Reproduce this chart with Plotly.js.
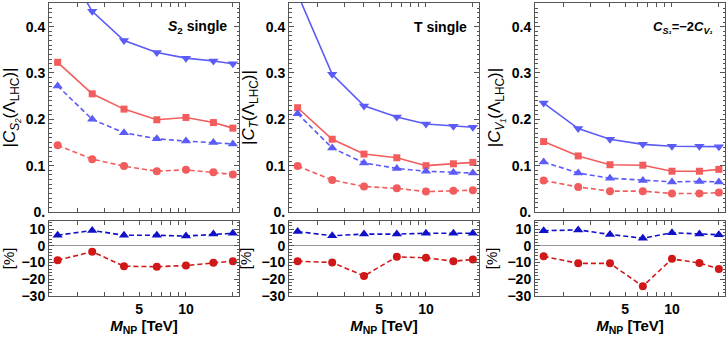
<!DOCTYPE html>
<html>
<head>
<meta charset="utf-8">
<script src="https://cdn.plot.ly/plotly-3.0.1.min.js"></script>
<style>
  body { margin: 0; background: #fff; }
  #graph { width: 728px; height: 340px; }
</style>
</head>
<body>
<div id="graph"></div>
<script>
// 質量 M_NP [TeV]
const massValues = [1.5, 2.5, 4, 6.5, 10, 15, 20];

// S2 single の上段
const s2BlueSolid = [0.56, 0.433, 0.370, 0.344, 0.332, 0.326, 0.320];
const s2RedSolid = [0.323, 0.255, 0.222, 0.199, 0.204, 0.193, 0.181];
const s2BlueDash = [0.272, 0.200, 0.171, 0.158, 0.153, 0.150, 0.147];
const s2RedDash = [0.144, 0.114, 0.099, 0.088, 0.091, 0.086, 0.081];

// T single の上段
const tBlueSolid = [0.47, 0.297, 0.229, 0.205, 0.190, 0.185, 0.183];
const tRedSolid = [0.225, 0.157, 0.125, 0.117, 0.100, 0.104, 0.107];
const tBlueDash = [0.212, 0.138, 0.106, 0.094, 0.088, 0.085, 0.084];
const tRedDash = [0.099, 0.069, 0.055, 0.051, 0.044, 0.046, 0.047];

// C_S1 = -2 C_V1 の上段
const vBlueSolid = [0.235, 0.180, 0.157, 0.146, 0.142, 0.142, 0.141];
const vRedSolid = [0.152, 0.121, 0.102, 0.101, 0.088, 0.088, 0.092];
const vBlueDash = [0.108, 0.084, 0.073, 0.068, 0.065, 0.066, 0.065];
const vRedDash = [0.068, 0.054, 0.045, 0.045, 0.040, 0.040, 0.042];

// 下段 [%]
const s2BluePct = [6.3, 9.2, 6.3, 6.3, 5.8, 7.0, 7.5];
const s2RedPct = [-8.6, -3.5, -12.2, -12.5, -11.8, -10.2, -9.2];
const tBluePct = [8.5, 6.0, 7.0, 7.0, 7.5, 7.5, 7.5];
const tRedPct = [-9.2, -10.0, -18.0, -6.6, -7.2, -9.2, -8.2];
const vBluePct = [9.0, 9.5, 6.8, 4.5, 7.8, 7.0, 6.6];
const vRedPct = [-6.3, -10.5, -10.5, -24.2, -7.8, -10.3, -13.8];

// 目盛りラベル
const topTickVals = [0, 0.1, 0.2, 0.3, 0.4];
const topTickText = ["0.", "0.1", "0.2", "0.3", "0.4"];
const pctTickVals = [-30, -20, -10, 0, 10];
const pctTickText = ["\u221230", "\u221220", "\u221210", "0", "10"];
const massTickVals = [2, 3, 4, 5, 6, 7, 8, 9, 10, 20];
const massTickText = ["", "", "", "5", "", "", "", "", "10", ""];

// パネルのタイトル
const panelLabels = [
  "<i>S</i><sub>2</sub> single",
  "T single",
  "<i>C<sub>S\u2081</sub></i>=\u22122<i>C<sub>V\u2081</sub></i>"
];
const yTitles = [
  "|<i>C<sub>S\u2082</sub></i>(\u039B<sub>LHC</sub>)|",
  "|<i>C<sub>T</sub></i>(\u039B<sub>LHC</sub>)|",
  "|<i>C<sub>V\u2081</sub></i>(\u039B<sub>LHC</sub>)|"
];

const FONT = "Liberation Sans, Arial, sans-serif";
const lightBlue = "#5b5bf7";
const lightRed = "#f25c5c";
const darkBlue = "#1010c8";
const darkRed = "#d01818";

// 線のトレースを作る
function makeTrace(yv, xa, ya, color, dash, symbol, size) {
  return {
    x: massValues,
    y: yv,
    xaxis: xa,
    yaxis: ya,
    type: "scatter",
    mode: "lines+markers",
    line: { color: color, width: 1.6, dash: dash },
    marker: { color: color, symbol: symbol, size: size },
    showlegend: false,
  };
}

const data = [];
const topSets = [
  [s2BlueSolid, s2RedSolid, s2BlueDash, s2RedDash],
  [tBlueSolid, tRedSolid, tBlueDash, tRedDash],
  [vBlueSolid, vRedSolid, vBlueDash, vRedDash],
];
const pctSets = [
  [s2BluePct, s2RedPct],
  [tBluePct, tRedPct],
  [vBluePct, vRedPct],
];
const dashed = "5px,3px";

for (let i = 0; i < 3; i++) {
  const xa = "x" + (i === 0 ? "" : i + 1);
  const ya = "y" + (i === 0 ? "" : i + 1);
  const set = topSets[i];
  data.push(makeTrace(set[0], xa, ya, lightBlue, "solid", "triangle-down", 9));
  data.push(makeTrace(set[1], xa, ya, lightRed, "solid", "square", 7));
  data.push(makeTrace(set[2], xa, ya, lightBlue, dashed, "triangle-up", 9));
  data.push(makeTrace(set[3], xa, ya, lightRed, dashed, "circle", 8));

  const xb = "x" + (i + 4);
  const yb = "y" + (i + 4);
  data.push(makeTrace(pctSets[i][0], xb, yb, darkBlue, dashed, "triangle-up", 9));
  data.push(makeTrace(pctSets[i][1], xb, yb, darkRed, dashed, "circle", 8));
}

// 列と段の位置 (ピクセル → 割合)
const W = 728, H = 340;
const colPx = [[49, 239], [289, 479], [535, 725]];
const topDomain = [1 - 212 / H, 1 - 3 / H];
const botDomain = [1 - 296 / H, 1 - 220.7 / H];
const massRange = [Math.log10(1.32), Math.log10(21.9)];

const frame = {
  showline: true,
  linecolor: "#555",
  linewidth: 1,
  mirror: "allticks",
  ticks: "inside",
  ticklen: 4,
  tickcolor: "#555",
  showgrid: false,
  tickfont: { family: FONT, size: 14, color: "#000", weight: "bold" },
};

const layout = {
  width: W,
  height: H,
  margin: { l: 0, r: 0, t: 0, b: 0 },
  paper_bgcolor: "#fff",
  plot_bgcolor: "#fff",
  font: { family: FONT, color: "#000" },
  annotations: [],
};

for (let i = 0; i < 3; i++) {
  const dom = [colPx[i][0] / W, colPx[i][1] / W];
  const sTop = i === 0 ? "" : String(i + 1);
  const sBot = String(i + 4);

  // 上段の x 軸
  layout["xaxis" + sTop] = Object.assign({}, frame, {
    type: "log",
    domain: dom,
    range: massRange,
    anchor: "y" + sTop,
    tickmode: "array",
    tickvals: massTickVals,
    ticktext: massTickText,
    showticklabels: false,
  });
  // 上段の y 軸
  layout["yaxis" + sTop] = Object.assign({}, frame, {
    domain: topDomain,
    range: [0, 0.451],
    anchor: "x" + sTop,
    tickmode: "array",
    tickvals: topTickVals,
    ticktext: topTickText,
    ticklen: 5,
    zeroline: false,
    minor: { tickmode: "linear", tick0: 0, dtick: 0.01, ticks: "inside", ticklen: 2.5, tickcolor: "#555" },
    title: { text: yTitles[i], font: { family: FONT, size: 17, color: "#000" }, standoff: 6 },
  });
  // 下段の x 軸
  layout["xaxis" + sBot] = Object.assign({}, frame, {
    type: "log",
    domain: dom,
    range: massRange,
    anchor: "y" + sBot,
    tickmode: "array",
    tickvals: massTickVals,
    ticktext: massTickText,
    title: {
      text: "<b><i>M</i><sub>NP</sub> [TeV]</b>",
      font: { family: FONT, size: 15, color: "#000" },
      standoff: 4,
    },
  });
  // 下段の y 軸
  layout["yaxis" + sBot] = Object.assign({}, frame, {
    domain: botDomain,
    range: [-30, 15],
    anchor: "x" + sBot,
    tickmode: "array",
    tickvals: pctTickVals,
    ticktext: pctTickText,
    ticklen: 5,
    zeroline: true,
    zerolinecolor: "#999",
    zerolinewidth: 1,
    minor: { tickmode: "linear", tick0: 0, dtick: 2, ticks: "inside", ticklen: 2.5, tickcolor: "#555" },
    title: { text: "[%]", font: { family: FONT, size: 15, color: "#000" }, standoff: 6 },
  });

  // パネル右上のラベル
  layout.annotations.push({
    text: "<b>" + panelLabels[i] + "</b>",
    xref: "x" + sTop + " domain",
    yref: "y" + sTop + " domain",
    x: 0.945,
    y: 0.885,
    xanchor: "right",
    yanchor: "middle",
    showarrow: false,
    font: { family: FONT, size: i === 2 ? 13 : 14, color: "#000" },
  });
}

Plotly.newPlot("graph", data, layout, { staticPlot: true });
</script>
</body>
</html>
